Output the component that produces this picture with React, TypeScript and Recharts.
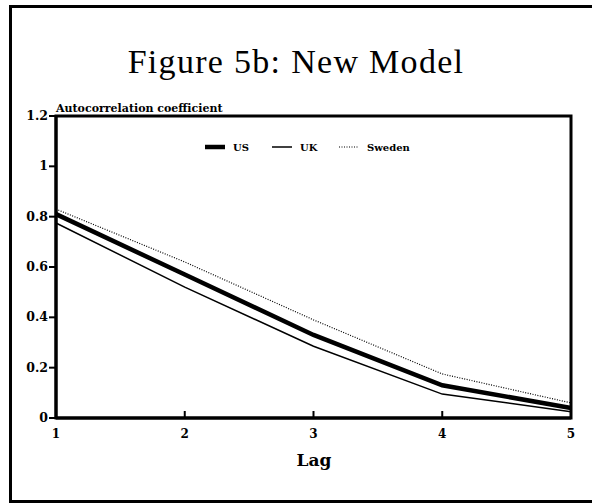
import React from "react";
import { LineChart, Line, XAxis, YAxis, ReferenceArea } from "recharts";

const lags = [1, 2, 3, 4, 5];
const us = [0.81, 0.57, 0.33, 0.13, 0.04];
const uk = [0.775, 0.52, 0.285, 0.095, 0.025];
const sweden = [0.83, 0.62, 0.39, 0.175, 0.06];
const yTicks = [0, 0.2, 0.4, 0.6, 0.8, 1, 1.2];

const data = lags.map((lag, i) => ({ lag, us: us[i], uk: uk[i], sweden: sweden[i] }));

const boldFont = "'DejaVu Serif', serif";

const XTick = (props: any) => {
  const { x, y, payload } = props;
  const v = payload.value;
  return (
    <g>
      {v !== 1 && v !== 5 && (
        <line x1={x} x2={x} y1={y - 10} y2={y - 17} stroke="#000" strokeWidth={2} />
      )}
      <text x={x} y={y + 10} textAnchor="middle" fontFamily={boldFont} fontWeight="bold" fontSize={12} fill="#000">
        {v}
      </text>
    </g>
  );
};

const YTick = (props: any) => {
  const { x, y, payload } = props;
  return (
    <text x={x} y={y + 4} textAnchor="end" fontFamily={boldFont} fontWeight="bold" fontSize={12.5} fill="#000">
      {payload.value}
    </text>
  );
};

const legendItems = [
  { name: "US", width: 4.5, dash: undefined as string | undefined },
  { name: "UK", width: 1.5, dash: undefined as string | undefined },
  { name: "Sweden", width: 1.2, dash: "1 1.5" },
];

const LegendBox = () => (
  <svg width={592} height={20} style={{ position: "absolute", left: 0, top: 138 }}>
    {legendItems.map((it, i) => {
      const x0 = 205 + i * 67;
      return (
        <g key={it.name}>
          <line x1={x0} x2={x0 + 20} y1={9} y2={9} stroke="#000" strokeWidth={it.width} strokeDasharray={it.dash} />
          <text x={x0 + 28} y={13} fontFamily={boldFont} fontWeight="bold" fontSize={10} fill="#000">
            {it.name}
          </text>
        </g>
      );
    })}
  </svg>
);

export default function App() {
  return (
    <div style={{ position: "absolute", left: 0, top: 0, width: 592, height: 504, background: "#fff", overflow: "hidden" }}>
      <div
        style={{
          position: "absolute",
          left: 9,
          top: 5,
          width: 620,
          height: 492,
          borderLeft: "3px solid #000",
          borderTop: "3px solid #000",
          borderBottom: "3px solid #000",
        }}
      />
      <div
        style={{
          position: "absolute",
          left: 0,
          width: 592,
          top: 43,
          textAlign: "center",
          fontFamily: "'Liberation Serif', serif",
          fontSize: 34,
          letterSpacing: 1.3,
          color: "#000",
        }}
      >
        Figure 5b: New Model
      </div>
      <div
        style={{
          position: "absolute",
          left: 56,
          top: 102,
          fontFamily: boldFont,
          fontWeight: "bold",
          fontSize: 11,
          color: "#000",
        }}
      >
        Autocorrelation coefficient
      </div>
      <div
        style={{
          position: "absolute",
          left: 0,
          width: 592,
          top: 450,
          textAlign: "center",
          paddingLeft: 36,
          boxSizing: "border-box",
          fontFamily: boldFont,
          fontWeight: "bold",
          fontSize: 17,
          color: "#000",
        }}
      >
        Lag
      </div>
      <div style={{ position: "absolute", left: 0, top: 0 }}>
        <LineChart width={592} height={504} data={data} margin={{ top: 116, right: 21, bottom: 0, left: 0 }}>
          <XAxis
            dataKey="lag"
            type="number"
            domain={[1, 5]}
            ticks={lags}
            height={86}
            tickSize={8}
            tickMargin={2}
            tickLine={false}
            axisLine={{ stroke: "#000", strokeWidth: 3 }}
            tick={<XTick />}
          />
          <YAxis
            type="number"
            domain={[0, 1.2]}
            ticks={yTicks}
            width={56}
            tickSize={7}
            tickMargin={1}
            tickLine={{ stroke: "#000", strokeWidth: 2 }}
            axisLine={{ stroke: "#000", strokeWidth: 3 }}
            tick={<YTick />}
          />
          <ReferenceArea x1={1} x2={5} y1={0} y2={1.2} fill="none" stroke="#000" strokeWidth={3} ifOverflow="visible" />
          <Line dataKey="sweden" stroke="#000" strokeWidth={1.2} strokeDasharray="1 1.5" dot={false} isAnimationActive={false} />
          <Line dataKey="uk" stroke="#000" strokeWidth={1.5} dot={false} isAnimationActive={false} />
          <Line dataKey="us" stroke="#000" strokeWidth={4.5} dot={false} isAnimationActive={false} />
        </LineChart>
      </div>
      <LegendBox />
    </div>
  );
}
